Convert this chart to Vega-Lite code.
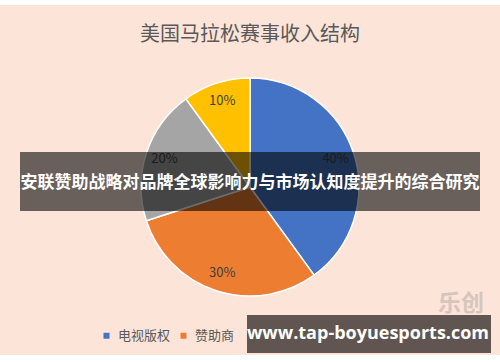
{
  "$schema": "https://vega.github.io/schema/vega-lite/v6.json",
  "width": 500,
  "height": 362,
  "autosize": {"type": "fit", "contains": "padding"},
  "padding": {"top": 5, "bottom": 7, "left": 0, "right": 0},
  "background": "#ffffff",
  "config": {
    "view": {"fill": "#fce4d8", "stroke": null},
    "font": "Noto Sans CJK SC"
  },
  "title": {
    "text": "美国马拉松赛事收入结构",
    "fontSize": 20,
    "fontWeight": "normal",
    "color": "#595959",
    "anchor": "middle",
    "offset": -40
  },
  "layer": [
    {
      "data": {
        "values": [
          {"category": "电视版权", "share": 0.4, "rank": 1},
          {"category": "赞助商", "share": 0.3, "rank": 2},
          {"category": "报名费", "share": 0.2, "rank": 3},
          {"category": "其他", "share": 0.1, "rank": 4}
        ]
      },
      "encoding": {
        "theta": {"field": "share", "type": "quantitative", "stack": true},
        "order": {"field": "rank", "type": "quantitative"},
        "color": {
          "field": "category",
          "type": "nominal",
          "scale": {
            "domain": ["电视版权", "赞助商", "报名费", "其他"],
            "range": ["#4472c4", "#ed7d31", "#a5a5a5", "#ffc000"]
          },
          "legend": {
            "title": null,
            "orient": "none",
            "direction": "horizontal",
            "legendX": 100,
            "legendY": 324,
            "values": ["电视版权", "赞助商"],
            "symbolType": "square",
            "symbolSize": 36,
            "symbolStrokeWidth": 0,
            "labelFontSize": 13,
            "labelColor": "#595959",
            "labelOffset": 5,
            "columnPadding": 6
          }
        }
      },
      "layer": [
        {
          "mark": {"type": "arc", "outerRadius": 109, "stroke": "#ffffff", "strokeWidth": 1.5, "yOffset": 7}
        },
        {
          "mark": {"type": "text", "radius": 90, "fontSize": 13, "color": "#404040", "yOffset": 7},
          "encoding": {
            "text": {"field": "share", "type": "quantitative", "format": ".0%"},
            "color": {"value": "#404040"}
          }
        }
      ]
    },
    {
      "data": {"values": [{"caption": "安联赞助战略对品牌全球影响力与市场认知度提升的综合研究"}]},
      "layer": [
        {
          "mark": {"type": "rect", "color": "#000000", "opacity": 0.58},
          "encoding": {
            "x": {"value": 20}, "x2": {"value": 480},
            "y": {"value": 147}, "y2": {"value": 206}
          }
        },
        {
          "mark": {"type": "text", "fontSize": 17, "fontWeight": "bold", "color": "#ffffff"},
          "encoding": {
            "x": {"value": 250}, "y": {"value": 178},
            "text": {"field": "caption"}
          }
        }
      ]
    },
    {
      "data": {"values": [{"site": "www.tap-boyuesports.com", "mark": "乐创"}]},
      "layer": [
        {
          "mark": {"type": "text", "fontSize": 23, "fontWeight": "bold", "color": "#b8aca6", "opacity": 0.55},
          "encoding": {
            "x": {"value": 461}, "y": {"value": 299},
            "text": {"field": "mark"}
          }
        },
        {
          "mark": {"type": "rect", "color": "#605550"},
          "encoding": {
            "x": {"value": 247}, "x2": {"value": 491},
            "y": {"value": 310}, "y2": {"value": 348}
          }
        },
        {
          "mark": {"type": "text", "fontSize": 18, "fontWeight": "bold", "color": "#ffffff", "font": "Open Sans"},
          "encoding": {
            "x": {"value": 368}, "y": {"value": 329},
            "text": {"field": "site"}
          }
        }
      ]
    }
  ]
}
